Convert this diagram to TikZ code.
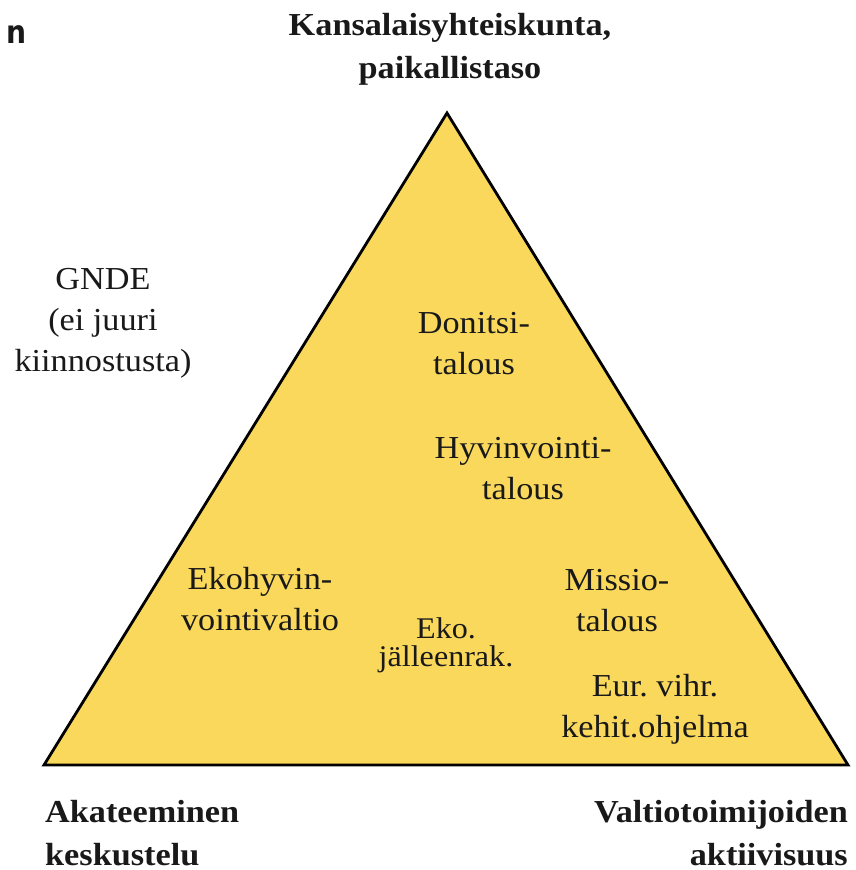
\documentclass[tikz,border=0pt]{standalone}
\usepackage{fontspec}
\setmainfont[FakeStretch=1.07]{Liberation Serif}
\newfontfamily\cutfont{DejaVu Sans}
\usetikzlibrary{positioning}
\definecolor{pyramid}{RGB}{249,216,92}
\frenchspacing
\tikzset{
    x=1pt, y=-1pt, % pixel-like units, y runs downwards
    every node/.style={inner sep=0pt, text=black!90}, % no padding round the texts
    lbl/.style={align=center, font=\fontsize{32}{41}\selectfont}, % texts inside and beside the triangle
    corner/.style={font=\fontsize{32}{43}\selectfont\bfseries}, % the three corner titles
    tri/.style={draw=black, line width=2.8pt, fill=pyramid, line join=miter}, % the triangle itself
}

\begin{document}
\begin{tikzpicture}
    \useasboundingbox (0,0) rectangle (855,870);
    \coordinate (apex) at (447,113);
    \coordinate (lcorner) at (44,765);
    \coordinate (rcorner) at (848,765);
    \draw[tri] (apex) -- (rcorner) -- (lcorner) -- cycle;

    \node[anchor=north west, font=\cutfont\bfseries\fontsize{32}{32}\selectfont, xscale=0.88] (cut) at (6,25) {n};

    \node[corner, align=center, anchor=north] (civil) at (450,13) {Kansalaisyhteiskunta,\\paikallistaso};
    \node[corner, align=left, anchor=north west] (academic) at (45,800) {Akateeminen\\keskustelu};
    \node[corner, align=right, anchor=north east] (state) at (848,800) {Valtiotoimijoiden\\aktiivisuus};

    \node[lbl, anchor=north] (gnde) at (103,268) {GNDE\\(ei juuri\\kiinnostusta)};
    \node[lbl, anchor=north] (donut) at (474,312) {Donitsi-\\talous};
    \node[lbl, anchor=north] (wellbeing) at (523,437) {Hyvinvointi-\\talous};
    \node[lbl, anchor=north] (ecowelfare) at (260,567) {Ekohyvin-\\vointivaltio};
    \node[lbl, anchor=north] (mission) at (617,569) {Missio-\\talous};
    \node[lbl, anchor=north, font=\fontsize{30}{28}\selectfont] (ecorecon) at (446,617) {Eko.\\jälleenrak.};
    \node[lbl, anchor=north] (eurgreen) at (655,674) {Eur. vihr.\\kehit.ohjelma};
\end{tikzpicture}
\end{document}
